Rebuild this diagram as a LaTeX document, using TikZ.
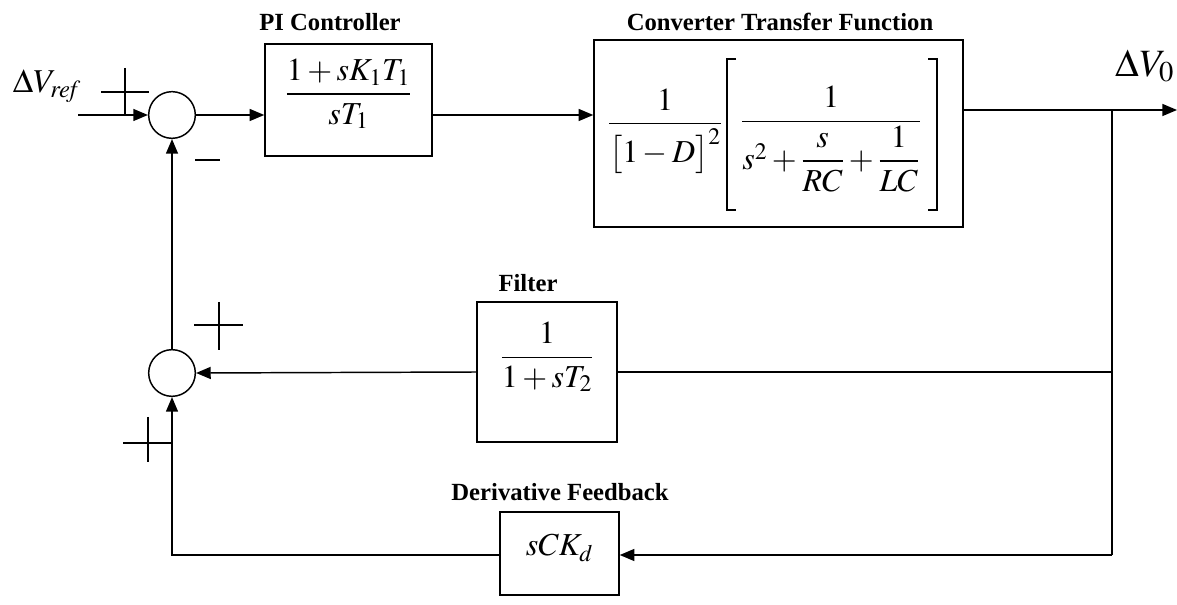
\documentclass[tikz,border=0pt]{standalone}
\usepackage{amsmath}
\usepackage{mathptmx}
\usepackage{fontspec}
\setmainfont{Liberation Serif}
\usetikzlibrary{arrows.meta}
\begin{document}
\begin{tikzpicture}[x=0.75pt,y=-0.75pt,
  line width=1.1pt,
  blk/.style={draw,rectangle,inner sep=0pt},
  sumj/.style={draw,circle,minimum size=35pt,inner sep=0pt},
  arr/.style={-{Triangle[length=11pt,width=9pt]}},
  sgn/.style={line width=1pt},
  brk/.style={line width=1.1pt},
  ttl/.style={font=\fontsize{18.5}{20}\selectfont\bfseries},
  mth/.style={font=\fontsize{24}{27}\selectfont,inner sep=0pt}]
\useasboundingbox (0,0) rectangle (1177,605);
% blocks
\node[sumj] (sum1) at (172,115) {};
\node[sumj] (sum2) at (172,373) {};
\node[blk,minimum width=125.25pt,minimum height=84pt] (pi) at (348.5,100) {};
\node[blk,minimum width=276.75pt,minimum height=140.25pt] (conv) at (778.5,133.5) {};
\node[blk,minimum width=105pt,minimum height=105pt] (filt) at (547,372) {};
\node[blk,minimum width=89.25pt,minimum height=62.25pt] (deriv) at (559.5,553.5) {};
% block contents
\node[mth] (pitxt) at (348.5,94) {$\dfrac{1+sK_1T_1}{sT_1}$};
\node[mth] (convtxt1) at (665,131) {$\dfrac{1}{\bigl[1-D\bigr]^2}$};
\node[mth] (convtxt2) at (831,139) {$\dfrac{1}{s^2+\dfrac{s}{RC}+\dfrac{1}{LC}}$};
\node[mth] (filttxt) at (547,357) {$\dfrac{1}{1+sT_2}$};
\node[mth] (derivtxt) at (559.5,548) {$sCK_d$};
% brackets of the converter function
\draw[brk] (736,59) -- (727,59) -- (727,210) -- (736,210);
\draw[brk] (928,59) -- (937,59) -- (937,210) -- (928,210);
% titles
\node[ttl] (t1) at (330,22) {PI Controller};
\node[ttl] (t2) at (780,22) {Converter Transfer Function};
\node[ttl] (t3) at (528,283) {Filter};
\node[ttl] (t4) at (560,492) {Derivative Feedback};
\node[font=\fontsize{25}{27}\selectfont,inner sep=0pt] (vref) at (47,86) {$\Delta V_{\mathit{ref}}$};
\node[font=\fontsize{29}{31}\selectfont,inner sep=0pt] (vout) at (1145,66) {$\Delta V_0$};
% coordinates
\coordinate (in) at (78,115);
\coordinate (out) at (1177,110);
\coordinate (b1) at (1112,110);
\coordinate (b2) at (1112,372);
\coordinate (b3) at (1112,555);
% connectors
\draw[arr] (in) -- (sum1.west);
\draw[arr] (sum1.east) -- (sum1.east -| pi.west);
\draw[arr] (sum1 -| pi.east) -- (sum1 -| conv.west);
\draw[arr] (out -| conv.east) -- (out);
\draw (b1) -- (b3);
\draw (b2) -- (b2 -| filt.east);
\draw[arr] (filt.west) -- (sum2.east);
\draw[arr] (b3) -- (b3 -| deriv.east);
\draw[arr] (b3 -| deriv.west) -| (sum2.south);
\draw[arr] (sum2.north) -- (sum1.south);
% signs
\draw[sgn] (125,68) -- (125,115) (101,92) -- (149,92);
\draw[sgn] (195,160) -- (220,160);
\draw[sgn] (219,302) -- (219,350) (194,325) -- (243,325);
\draw[sgn] (148,417) -- (148,462) (123,443) -- (172,443);
\end{tikzpicture}
\end{document}
